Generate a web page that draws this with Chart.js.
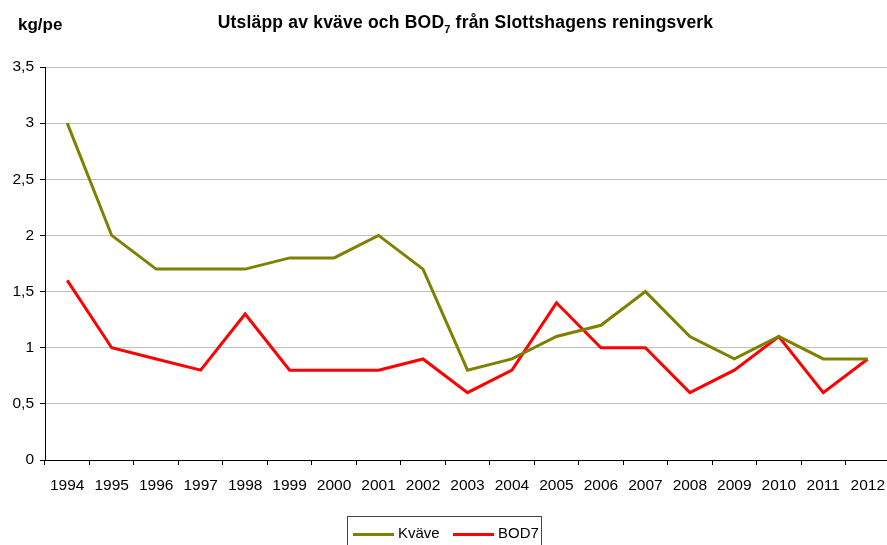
<!DOCTYPE html>
<html lang="sv">
  <head>
    <meta charset="UTF-8" />
    <title>Utsläpp av kväve och BOD7</title>
    <script src="https://cdn.jsdelivr.net/npm/chart.js"></script>
    <style>
      body { margin: 0; background: #fff; font-family: "Liberation Sans", Arial, sans-serif; overflow: hidden; }
      .wrap { position: relative; width: 887px; height: 545px; overflow: hidden; }
      canvas { display: block; }
      .unit { position: absolute; left: 18px; top: 15px; font-weight: bold; font-size: 17px; }
      .title { position: absolute; left: 0; width: 931px; top: 12px; text-align: center; font-weight: bold; font-size: 17.5px; letter-spacing: 0.2px; }
      .title sub { font-size: 11px; }
      .legend { position: absolute; left: 347px; top: 516px; width: 195px; height: 40px; border: 1px solid #444; box-sizing: border-box; font-size: 15px; }
      .legend .line { position: absolute; top: 16px; width: 41px; height: 3px; }
      .legend .txt { position: absolute; top: 7px; white-space: nowrap; }
    </style>
  </head>
  <body>
    <div class="wrap">
      <canvas id="myChart" width="890" height="545"></canvas>
      <div class="unit">kg/pe</div>
      <div class="title">Utsläpp av kväve och BOD<sub>7</sub> från Slottshagens reningsverk</div>
      <div class="legend">
        <span class="line" style="left:5px; background:#808000"></span><span class="txt" style="left:50px">Kväve</span>
        <span class="line" style="left:105px; background:#ff0000"></span><span class="txt" style="left:150px">BOD7</span>
      </div>
    </div>
    <script>
      const years = ["1994", "1995", "1996", "1997", "1998", "1999", "2000", "2001", "2002", "2003",
        "2004", "2005", "2006", "2007", "2008", "2009", "2010", "2011", "2012"];
      const kvave = [3.0, 2.0, 1.7, 1.7, 1.7, 1.8, 1.8, 2.0, 1.7, 0.8, 0.9, 1.1, 1.2, 1.5, 1.1, 0.9, 1.1, 0.9, 0.9];
      const bod7 = [1.6, 1.0, 0.9, 0.8, 1.3, 0.8, 0.8, 0.8, 0.9, 0.6, 0.8, 1.4, 1.0, 1.0, 0.6, 0.8, 1.1, 0.6, 0.9];

      const ctx = document.querySelector("#myChart");
      const chart = new Chart(ctx, {
        type: "line",
        data: {
          labels: years,
          datasets: [
            { label: "Kväve", data: kvave, borderColor: "#808000", borderWidth: 3, pointRadius: 0, tension: 0 },
            { label: "BOD7", data: bod7, borderColor: "#ff0000", borderWidth: 3, pointRadius: 0, tension: 0 },
          ],
        },
        options: {
          responsive: false,
          animation: false,
          layout: { padding: { top: 67, left: 0, right: 0, bottom: 0 } },
          plugins: { legend: { display: false }, tooltip: { enabled: false } },
          scales: {
            x: {
              offset: true,
              grid: { offset: true, drawOnChartArea: false, tickLength: 5, tickColor: "#000" },
              border: { color: "#000", width: 1 },
              ticks: { color: "#000", font: { family: "Liberation Sans", size: 15.5 }, padding: 11, maxRotation: 0, autoSkip: false },
              afterFit: function (s) { s.height = 85; s.paddingLeft = 0; s.paddingRight = 0; },
            },
            y: {
              min: 0,
              max: 3.5,
              ticks: {
                stepSize: 0.5,
                color: "#000",
                padding: 6,
                font: { family: "Liberation Sans", size: 15.5 },
                callback: function (v) { return String(v).replace(".", ","); },
              },
              grid: { color: "#c0c0c0", tickLength: 5, tickColor: "#000" },
              border: { color: "#000", width: 1 },
              afterFit: function (s) { s.width = 45; s.paddingTop = 0; s.paddingBottom = 0; },
            },
          },
        },
      });
    </script>
  </body>
</html>
